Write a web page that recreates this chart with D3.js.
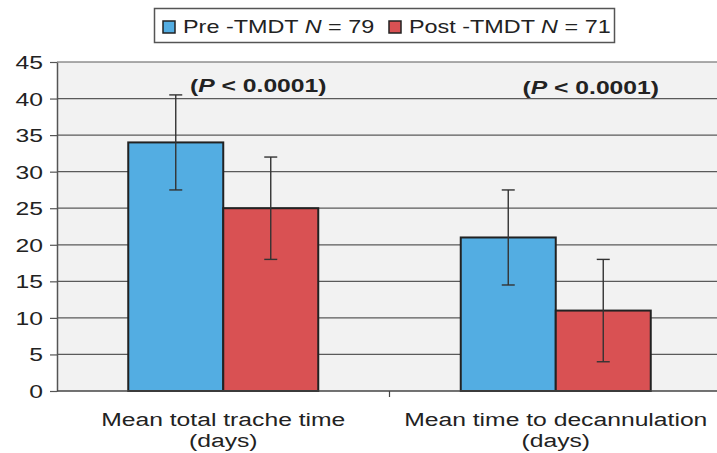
<!DOCTYPE html>
<html>
<head>
<meta charset="utf-8">
<script src="https://cdn.jsdelivr.net/npm/d3@7"></script>
<style>
  body { margin: 0; background: #fff; }
  text { font-family: "Liberation Sans", Arial, sans-serif; fill: #222; }
</style>
</head>
<body>
<svg id="chart" width="717" height="453"></svg>
<script>

// values
var categories = ["Mean total trache time", "Mean time to decannulation"];
var categoryLines = [["Mean total trache time", "(days)"], ["Mean time to decannulation", "(days)"]];
var seriesNames = ["Pre -TMDT", "Post -TMDT"];
var seriesN = [79, 71];
var preMean = [34, 21];
var postMean = [25, 11];
var preLow = [27.5, 14.5];
var preHigh = [40.5, 27.5];
var postLow = [18, 4];
var postHigh = [32, 18];
var pLabels = ["0.0001", "0.0001"];
var yTicks = [0, 5, 10, 15, 20, 25, 30, 35, 40, 45];

var colors = ["#53ade2", "#d95153"];
var SX = 1.3; // the reference text is stretched sideways

var svg = d3.select("#chart");

// note: "top" is taken by window.top, so plot edges get their own names
var plotLeft = 57, plotRight = 722, plotTop = 62, plotBottom = 391;

var x0 = d3.scaleBand().domain(categories).range([plotLeft, plotRight]).padding(0);
var half = 95;
var x1 = d3.scaleBand().domain(seriesNames)
    .range([x0.bandwidth() / 2 - half, x0.bandwidth() / 2 + half]).padding(0);
var y = d3.scaleLinear().domain([0, 45]).range([plotBottom, plotTop]);

var rows = categories.map(function(c, i) {
    return [
        { cat: c, s: seriesNames[0], v: preMean[i], lo: preLow[i], hi: preHigh[i], color: colors[0] },
        { cat: c, s: seriesNames[1], v: postMean[i], lo: postLow[i], hi: postHigh[i], color: colors[1] }
    ];
});

function stretchText(g, tx, ty, str, anchor) {
    return g.append("text")
        .attr("transform", "translate(" + tx + "," + ty + ") scale(" + SX + ",1)")
        .attr("text-anchor", anchor || "middle")
        .text(str);
}

// plot background
svg.append("rect")
    .attr("x", plotLeft).attr("y", plotTop)
    .attr("width", plotRight - plotLeft).attr("height", plotBottom - plotTop)
    .attr("fill", "#f2f2f2");

// gridlines
svg.append("g").selectAll("line")
    .data(yTicks.filter(function(d) { return d > 0; }))
    .enter().append("line")
    .attr("x1", plotLeft).attr("x2", plotRight)
    .attr("y1", function(d) { return y(d); })
    .attr("y2", function(d) { return y(d); })
    .attr("stroke", "#5a5a5a")
    .attr("stroke-width", 1.2);

// y axis
var yAxis = svg.append("g")
    .attr("transform", "translate(" + plotLeft + ",0)")
    .call(d3.axisLeft(y).tickValues(yTicks).tickSize(7).tickSizeOuter(0).tickFormat(""));
yAxis.select(".domain").attr("stroke", "#555").attr("stroke-width", 1.5);
yAxis.selectAll(".tick line").attr("stroke", "#555").attr("stroke-width", 1.2);

var yLab = svg.append("g").attr("font-size", 19);
yTicks.forEach(function(t) {
    stretchText(yLab, 43, y(t) + 7, String(t), "end");
});

// bars
var groups = svg.append("g").selectAll("g")
    .data(rows)
    .enter().append("g")
    .attr("transform", function(d) { return "translate(" + x0(d[0].cat) + ",0)"; });

groups.selectAll("rect")
    .data(function(d) { return d; })
    .enter().append("rect")
    .attr("x", function(d) { return x1(d.s); })
    .attr("width", x1.bandwidth())
    .attr("y", function(d) { return y(d.v); })
    .attr("height", function(d) { return y(0) - y(d.v); })
    .attr("fill", function(d) { return d.color; })
    .attr("stroke", "#222")
    .attr("stroke-width", 2);

// error bars
var cap = 6.5;
var err = groups.selectAll("g.err")
    .data(function(d) { return d; })
    .enter().append("g")
    .attr("class", "err")
    .attr("stroke", "#333")
    .attr("stroke-width", 1.4);
err.append("line")
    .attr("x1", function(d) { return x1(d.s) + x1.bandwidth() / 2; })
    .attr("x2", function(d) { return x1(d.s) + x1.bandwidth() / 2; })
    .attr("y1", function(d) { return y(d.lo); })
    .attr("y2", function(d) { return y(d.hi); });
err.selectAll("line.cap")
    .data(function(d) { return [d.lo, d.hi].map(function(v) { return { s: d.s, v: v }; }); })
    .enter().append("line")
    .attr("class", "cap")
    .attr("x1", function(d) { return x1(d.s) + x1.bandwidth() / 2 - cap; })
    .attr("x2", function(d) { return x1(d.s) + x1.bandwidth() / 2 + cap; })
    .attr("y1", function(d) { return y(d.v); })
    .attr("y2", function(d) { return y(d.v); });

// x axis
svg.append("line")
    .attr("x1", plotLeft).attr("x2", plotRight)
    .attr("y1", plotBottom).attr("y2", plotBottom)
    .attr("stroke", "#444").attr("stroke-width", 1.5);
svg.append("line")
    .attr("x1", x0(categories[1])).attr("x2", x0(categories[1]))
    .attr("y1", plotBottom).attr("y2", plotBottom + 6)
    .attr("stroke", "#444").attr("stroke-width", 1.2);

// category labels
var xLab = svg.append("g").attr("font-size", 19);
categories.forEach(function(c, i) {
    var cx = x0(c) + x0.bandwidth() / 2;
    categoryLines[i].forEach(function(line, j) {
        stretchText(xLab, cx, 426 + j * 21, line);
    });
});

// p-values
var pLab = svg.append("g").attr("font-size", 19).attr("font-weight", "bold");
categories.forEach(function(c, i) {
    var cx = x0(c) + x0.bandwidth() / 2 + 35;
    var t = pLab.append("text")
        .attr("transform", "translate(" + cx + "," + (92 + i * 2) + ") scale(" + SX + ",1)")
        .attr("text-anchor", "middle");
    t.append("tspan").text("(");
    t.append("tspan").attr("font-style", "italic").text("P");
    t.append("tspan").text(" < " + pLabels[i] + ")");
});

// legend
var lg = svg.append("g");
lg.append("rect")
    .attr("x", 154.5).attr("y", 8.5).attr("width", 460).attr("height", 34)
    .attr("fill", "#fff").attr("stroke", "#555").attr("stroke-width", 1.5);
var legendX = [163, 389];
seriesNames.forEach(function(s, i) {
    lg.append("rect")
        .attr("x", legendX[i]).attr("y", 21)
        .attr("width", 12).attr("height", 12)
        .attr("fill", colors[i]).attr("stroke", "#222").attr("stroke-width", 1.5);
    var t = lg.append("text")
        .attr("font-size", 18)
        .attr("transform", "translate(" + (legendX[i] + 20) + ",33) scale(" + SX + ",1)");
    t.append("tspan").text(s + " ");
    t.append("tspan").attr("font-style", "italic").text("N");
    t.append("tspan").text(" = " + seriesN[i]);
});

</script>
</body>
</html>
